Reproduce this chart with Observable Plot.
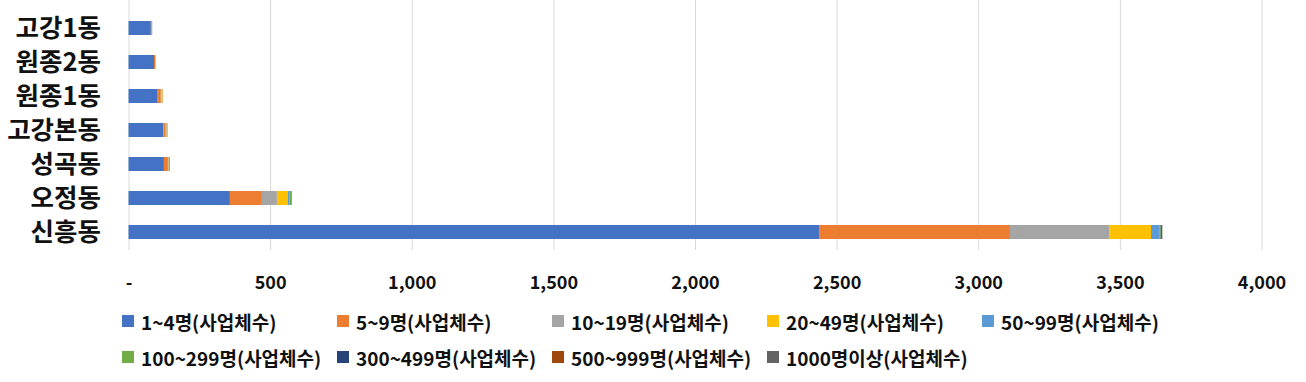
<!DOCTYPE html>
<html>
<head>
<meta charset="utf-8">
<script src="https://cdn.jsdelivr.net/npm/d3@7"></script>
<script src="https://cdn.jsdelivr.net/npm/@observablehq/plot@0.6"></script>
<style>
  body { margin: 0; background: #fff; font-family: "Noto Sans CJK KR", "Noto Sans", sans-serif; }
  #legend { display: flex; flex-wrap: wrap; width: 1100px; padding-left: 122px; margin-top: 3px; }
  .item { width: 215px; height: 36px; display: flex; align-items: center; font-size: 19px; font-weight: bold; color: #111; white-space: nowrap; }
  .sw { width: 12px; height: 12px; margin-right: 7px; flex: none; }
</style>
</head>
<body>
<div id="chart"></div>
<div id="legend"></div>
<script>
const districts = ["고강1동", "원종2동", "원종1동", "고강본동", "성곡동", "오정동", "신흥동"];
const seriesNames = ["1~4명(사업체수)", "5~9명(사업체수)", "10~19명(사업체수)", "20~49명(사업체수)", "50~99명(사업체수)", "100~299명(사업체수)", "300~499명(사업체수)", "500~999명(사업체수)", "1000명이상(사업체수)"];
const colors = ["#4472C4", "#ED7D31", "#A5A5A5", "#FFC000", "#5B9BD5", "#70AD47", "#264478", "#9E480E", "#636363"];
const s1 = [79, 90, 103, 123, 125, 358, 2438];
const s2 = [3, 5, 11, 8, 14, 113, 674];
const s3 = [2, 1, 2, 4, 3, 53, 350];
const s4 = [0, 0, 5, 3, 1, 39, 148];
const s5 = [0, 0, 1, 1, 3, 5, 29];
const s6 = [0, 0, 0, 0, 0, 8, 5];
const s7 = [0, 0, 0, 0, 0, 0, 1];
const s8 = [0, 0, 0, 0, 0, 1, 4];
const s9 = [0, 0, 0, 0, 0, 0, 1];
const xTicks = [0, 500, 1000, 1500, 2000, 2500, 3000, 3500, 4000];

const seriesValues = [s1, s2, s3, s4, s5, s6, s7, s8, s9];
const data = [];
seriesNames.forEach((s, i) => {
  districts.forEach((d, j) => data.push({district: d, series: s, value: seriesValues[i][j]}));
});

const chart = Plot.plot({
  width: 1306,
  height: 300,
  marginLeft: 128.5,
  marginRight: 44.5,
  marginTop: 0,
  marginBottom: 50,
  style: { fontFamily: '"Noto Sans CJK KR", "Noto Sans", sans-serif', color: "#111", background: "#fff" },
  x: { domain: [0, 4000] },
  y: { domain: districts, range: [10, 250.7], paddingInner: 0.59, paddingOuter: 0.295 },
  color: { domain: seriesNames, range: colors },
  marks: [
    Plot.gridX(xTicks, { stroke: "#d9d9d9", strokeOpacity: 1, strokeWidth: 1 }),
    Plot.barX(data, Plot.stackX({ y: "district", x: "value", fill: "series", order: seriesNames })),
    Plot.axisX({ ticks: xTicks, tickSize: 0, tickPadding: 26, fontSize: 18, fontWeight: "bold",
      tickFormat: d => d === 0 ? "-" : d3.format(",")(d), label: null }),
    Plot.axisY({ tickSize: 0, tickPadding: 28, fontSize: 25.5, fontWeight: "bold", label: null })
  ]
});
document.getElementById("chart").appendChild(chart);

const legend = document.getElementById("legend");
seriesNames.forEach((s, i) => {
  const it = document.createElement("div");
  it.className = "item";
  const sw = document.createElement("span");
  sw.className = "sw";
  sw.style.background = colors[i];
  it.appendChild(sw);
  it.appendChild(document.createTextNode(s));
  legend.appendChild(it);
});
</script>
</body>
</html>
